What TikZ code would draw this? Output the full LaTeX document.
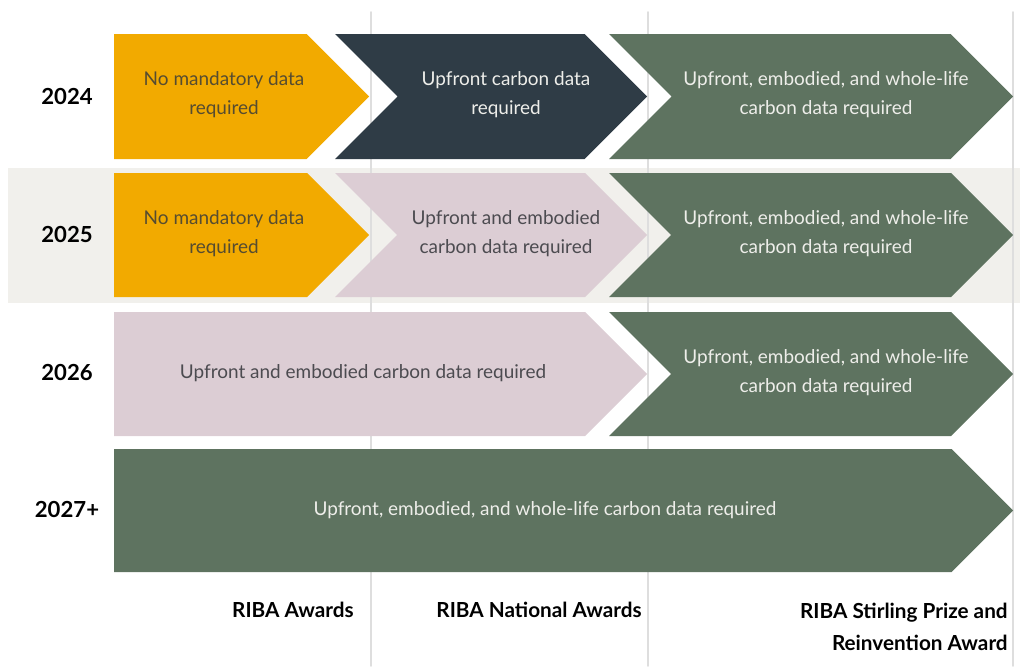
\documentclass[tikz,border=0pt]{standalone}
\usepackage{fontspec}
\setmainfont{Lato}
\definecolor{mustard}{HTML}{F2AA00}
\definecolor{slate}{HTML}{2F3C46}
\definecolor{sage}{HTML}{5E7360}
\definecolor{mauve}{HTML}{DCCDD4}
\definecolor{bandgray}{HTML}{F1F0EC}
\definecolor{gridgray}{HTML}{DEDEDE}
\definecolor{inkdark}{HTML}{564C30}
\definecolor{inkgray}{HTML}{4C4B50}
\definecolor{inklight}{HTML}{EEEEEA}
% chevron: fill, left x, tip x, top y, bottom y, notch (0/1)
\newcommand{\chevron}[6]{%
	\pgfmathsetmacro\hh{(#5-#4)/2}
	\fill[#1] (#2,#4)--({#3-\hh},#4)--(#3,{#4+\hh})--({#3-\hh},#5)--(#2,#5)--({#2+#6*\hh},{#4+\hh})--cycle;}
\tikzset{
	txt/.style={align=center,font=\fontsize{10.8}{16.5}\selectfont},
	yearlbl/.style={font=\bfseries\fontsize{12.6}{16}\selectfont,text=black},
	awardlbl/.style={anchor=east,align=right,inner sep=0pt,font=\bfseries\fontsize{11.8}{18.5}\selectfont,text=black}
}
\begin{document}
	\begin{tikzpicture}[x=0.02cm,y=-0.02cm,line join=round,line cap=round]
		\useasboundingbox (0,0) rectangle (1020,666);
		%dải nền 2025
		\fill[bandgray] (8,168) rectangle (1020,303);
		%đường lưới
		\foreach \x in {371,648,1013}{
			\draw[gridgray,line width=1pt] (\x,12)--(\x,666);}
		%2024
		\chevron{mustard}{114}{369}{34}{159}{0}
		\chevron{slate}{335}{647}{34}{159}{1}
		\chevron{sage}{609}{1013}{34}{159}{1}
		%2025
		\chevron{mustard}{114}{369}{173}{297}{0}
		\chevron{mauve}{335}{647}{173}{297}{1}
		\chevron{sage}{609}{1013}{173}{297}{1}
		%2026
		\chevron{mauve}{114}{647}{312}{436}{0}
		\chevron{sage}{609}{1013}{312}{436}{1}
		%2027+
		\chevron{sage}{114}{1013}{449}{572}{0}
		%nội dung
		\node[txt,text=inkdark] (a1) at (224,95) {No mandatory data\\required};
		\node[txt,text=inklight] (b1) at (506,95) {Upfront carbon data\\required};
		\node[txt,text=inklight] (c1) at (826,95) {Upfront, embodied, and whole-life\\carbon data required};
		\node[txt,text=inkdark] (a2) at (224,234) {No mandatory data\\required};
		\node[txt,text=inkgray] (b2) at (506,234) {Upfront and embodied\\carbon data required};
		\node[txt,text=inklight] (c2) at (826,234) {Upfront, embodied, and whole-life\\carbon data required};
		\node[txt,text=inkgray] (a3) at (363,373) {Upfront and embodied carbon data required};
		\node[txt,text=inklight] (c3) at (826,373) {Upfront, embodied, and whole-life\\carbon data required};
		\node[txt,text=inklight] (a4) at (545,510) {Upfront, embodied, and whole-life carbon data required};
		%năm
		\foreach \y/\n [count=\i] in {96/2024,234/2025,372/2026,509/2027+}{
			\node[yearlbl] (yr\i) at (67,\y) {\n};}
		%giải thưởng
		\node[awardlbl] (aw1) at (354,610) {RIBA Awards};
		\node[awardlbl] (aw2) at (642,610) {RIBA National Awards};
		\node[awardlbl] (aw3) at (1008,627) {RIBA Stirling Prize and\\Reinvention Award};
	\end{tikzpicture}
\end{document}
